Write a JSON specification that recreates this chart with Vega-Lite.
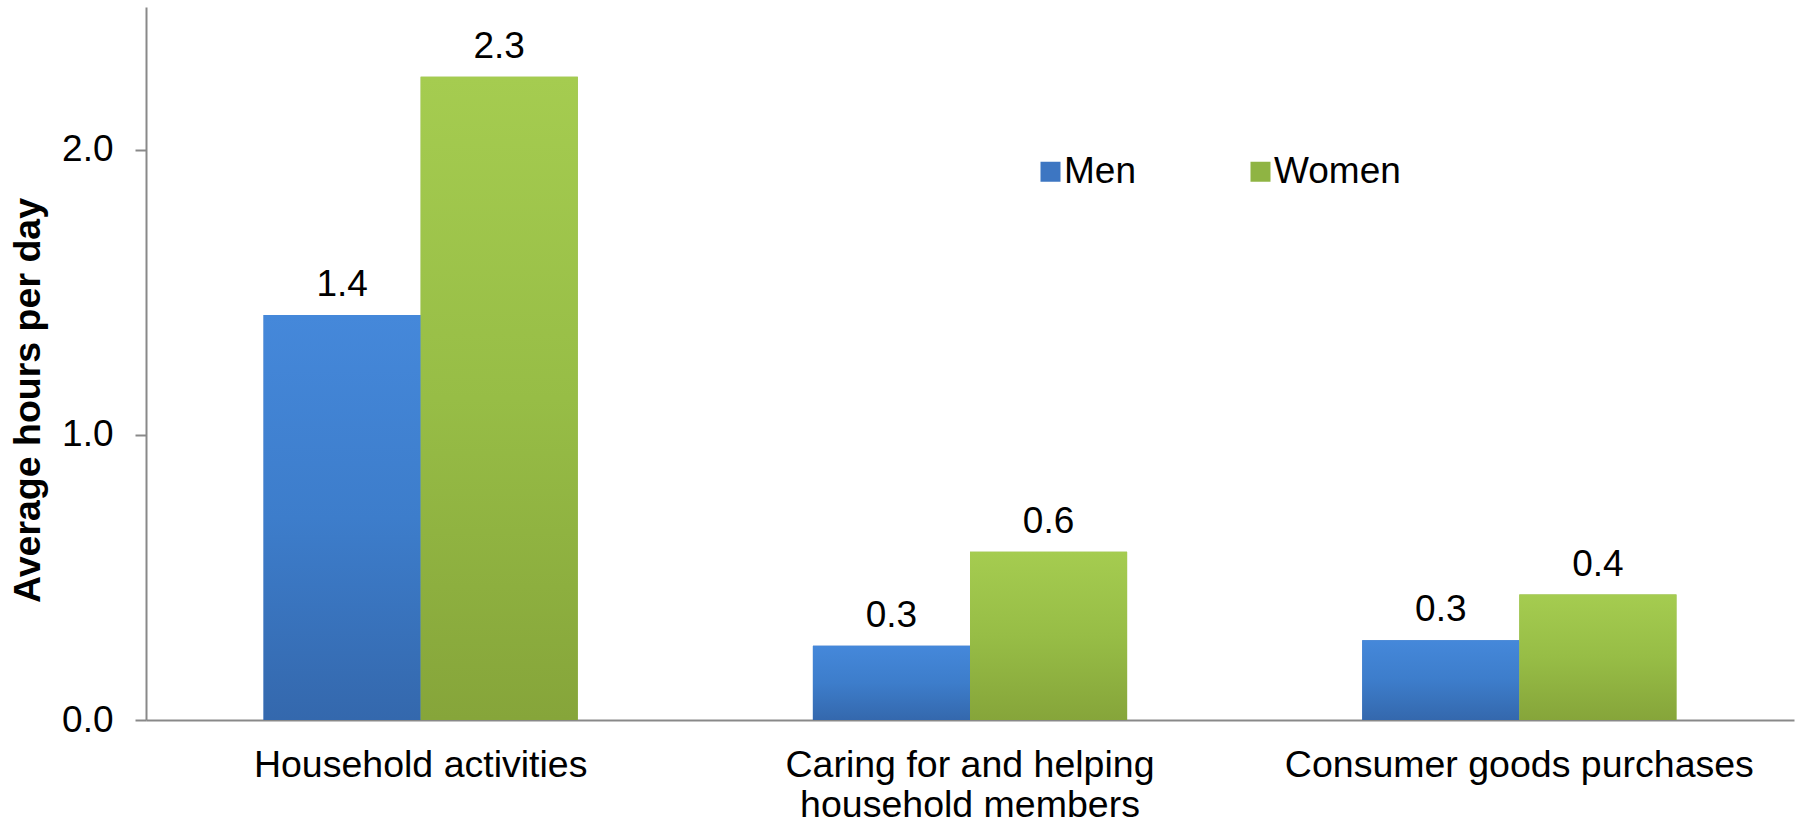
{
  "$schema": "https://vega.github.io/schema/vega-lite/v6.json",
  "width": 1648,
  "height": 713,
  "autosize": {"type": "none"},
  "padding": {"left": 146, "top": 7, "right": 2, "bottom": 103},
  "background": "white",
  "config": {
    "view": {"stroke": null},
    "font": "Liberation Sans",
    "axis": {"labelFont": "Liberation Sans", "titleFont": "Liberation Sans", "labelColor": "#000000", "titleColor": "#000000"},
    "legend": {"labelFont": "Liberation Sans"}
  },
  "data": {
    "values": [
      {"category": "Household activities", "sex": "Men", "hours": 1.42},
      {"category": "Household activities", "sex": "Women", "hours": 2.255},
      {"category": "Caring for and helping household members", "sex": "Men", "hours": 0.26},
      {"category": "Caring for and helping household members", "sex": "Women", "hours": 0.59},
      {"category": "Consumer goods purchases", "sex": "Men", "hours": 0.28},
      {"category": "Consumer goods purchases", "sex": "Women", "hours": 0.44}
    ]
  },
  "encoding": {
    "x": {
      "field": "category",
      "type": "nominal",
      "sort": null,
      "scale": {"paddingInner": 0.428, "paddingOuter": 0.214},
      "axis": {
        "title": null,
        "labelAngle": 0,
        "labelFontSize": 37.5,
        "labelLineHeight": 40,
        "labelPadding": 26,
        "labelBaseline": "top",
        "labelLimit": 0,
        "ticks": false,
        "domainColor": "#898989",
        "domainWidth": 2,
        "labelExpr": "datum.label == 'Caring for and helping household members' ? ['Caring for and helping', 'household members'] : datum.label"
      }
    },
    "xOffset": {"field": "sex", "type": "nominal", "sort": ["Men", "Women"]},
    "y": {
      "field": "hours",
      "type": "quantitative",
      "scale": {"domain": [0, 2.5], "nice": false},
      "axis": {
        "title": "Average hours per day",
        "titleFontSize": 37.5,
        "titleFontWeight": "bold",
        "titleAngle": 270,
        "titleX": -118,
        "titleY": 393,
        "titleAlign": "center",
        "titleBaseline": "middle",
        "values": [0, 1, 2],
        "format": ".1f",
        "labelFontSize": 37,
        "labelPadding": 22,
        "tickSize": 11,
        "tickColor": "#898989",
        "tickWidth": 2,
        "domainColor": "#898989",
        "domainWidth": 2,
        "grid": false
      }
    }
  },
  "layer": [
    {
      "mark": {"type": "bar"},
      "encoding": {
        "color": {
          "field": "sex",
          "type": "nominal",
          "scale": {"domain": ["Men", "Women"], "range": ["#3d76c2", "#8fb443"]},
          "legend": {
            "title": null,
            "orient": "none",
            "legendX": 886,
            "legendY": 146,
            "direction": "horizontal",
            "symbolType": "square",
            "symbolSize": 400,
            "symbolStrokeWidth": 0,
            "labelFontSize": 37,
            "labelColor": "#000000",
            "labelOffset": -5,
            "columnPadding": 106,
            "padding": 0
          }
        }
      }
    },
    {
      "transform": [{"filter": "datum.sex == 'Men'"}],
      "mark": {
        "type": "bar",
        "fill": {
          "gradient": "linear", "x1": 0, "y1": 0, "x2": 0, "y2": 1,
          "stops": [
            {"offset": 0, "color": "#4588da"},
            {"offset": 0.5, "color": "#3d7dcb"},
            {"offset": 1, "color": "#3468ad"}
          ]
        }
      }
    },
    {
      "transform": [{"filter": "datum.sex == 'Women'"}],
      "mark": {
        "type": "bar",
        "fill": {
          "gradient": "linear", "x1": 0, "y1": 0, "x2": 0, "y2": 1,
          "stops": [
            {"offset": 0, "color": "#a5cc50"},
            {"offset": 0.5, "color": "#97bd46"},
            {"offset": 1, "color": "#86a53a"}
          ]
        }
      }
    },
    {
      "mark": {"type": "text", "baseline": "alphabetic", "align": "center", "dy": -19, "fontSize": 37, "color": "#000000", "font": "Liberation Sans"},
      "encoding": {
        "text": {"field": "hours", "type": "quantitative", "format": ".1f"}
      }
    }
  ]
}
